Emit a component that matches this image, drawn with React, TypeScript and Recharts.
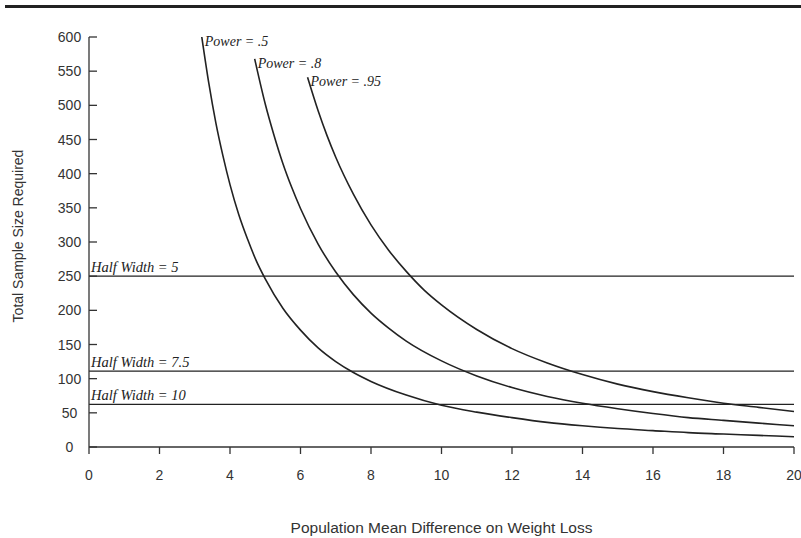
import {
  LineChart,
  Line,
  XAxis,
  YAxis,
  ReferenceLine,
  ReferenceDot,
} from "recharts";

const xTicks = [0, 2, 4, 6, 8, 10, 12, 14, 16, 18, 20];
const yTicks = [0, 50, 100, 150, 200, 250, 300, 350, 400, 450, 500, 550, 600];

// mean difference (x) and total sample size (y)
const power50Diff = [3.2, 3.4, 3.6, 3.8, 4, 4.25, 4.5, 4.75, 5, 5.5, 6, 6.5, 7, 7.5, 8, 9, 10, 11, 12, 13, 14, 15, 16, 17, 18, 19, 20];
const power50Size = [600, 532, 474, 426, 384, 340, 304, 272, 246, 203, 171, 145, 125, 109, 96, 76, 61, 51, 43, 36, 31, 27, 24, 21, 19, 17, 15];

const power80Diff = [4.7, 5, 5.25, 5.5, 5.75, 6, 6.5, 7, 7.5, 8, 8.5, 9, 10, 11, 12, 13, 14, 15, 16, 17, 18, 19, 20];
const power80Size = [568, 502, 456, 415, 380, 349, 297, 256, 223, 196, 174, 155, 126, 104, 87, 74, 64, 56, 49, 43, 39, 35, 31];

const power95Diff = [6.2, 6.5, 6.75, 7, 7.5, 8, 8.5, 9, 9.5, 10, 11, 12, 13, 14, 15, 16, 17, 18, 19, 20];
const power95Size = [541, 492, 456, 424, 370, 325, 288, 257, 230, 208, 172, 144, 123, 106, 92, 81, 72, 64, 58, 52];

const powerNames = [".5", ".8", ".95"];
const halfWidthNames = ["5", "7.5", "10"];
const halfWidthSizes = [250, 111, 62.5];

const toRows = (d: number[], n: number[]) => d.map((v, i) => ({ d: v, n: n[i] }));
const series = [
  toRows(power50Diff, power50Size),
  toRows(power80Diff, power80Size),
  toRows(power95Diff, power95Size),
];

const SANS = "'Liberation Sans', Arial, sans-serif";
const SERIF = "'Liberation Serif', 'Times New Roman', serif";
const INK = "#222";
const AXIS = "#333";

const YTick = (props: any) => {
  const { x, y, payload } = props;
  return (
    <g>
      <line x1={x} x2={x + 8} y1={y} y2={y} stroke={AXIS} strokeWidth={1.3} />
      <text
        x={x - 19.5}
        y={y}
        dy={5}
        textAnchor="middle"
        fontSize={14}
        fontFamily={SANS}
        fill={AXIS}
      >
        {payload.value}
      </text>
    </g>
  );
};

const YTitle = (p: any) => {
  const cx = p.viewBox.x + 18;
  const cy = p.viewBox.y + p.viewBox.height / 2 - 6;
  return (
    <text
      x={cx}
      y={cy}
      transform={`rotate(-90 ${cx} ${cy})`}
      textAnchor="middle"
      dy={5}
      fontSize={14}
      fontFamily={SANS}
      fill={AXIS}
    >
      Total Sample Size Required
    </text>
  );
};

export default function App() {
  return (
    <div
      style={{
        position: "absolute",
        left: 0,
        top: 0,
        width: 801,
        height: 538,
        background: "#fff",
      }}
    >
      <div
        style={{
          position: "absolute",
          left: 5,
          top: 5,
          width: 796,
          height: 3,
          background: INK,
        }}
      />
      <LineChart
        width={801}
        height={538}
        margin={{ top: 37, right: 7, left: 0, bottom: 0 }}
      >
        <XAxis
          type="number"
          dataKey="d"
          domain={[0, 20]}
          ticks={xTicks}
          interval={0}
          height={91}
          stroke={AXIS}
          strokeWidth={1.3}
          tickSize={7}
          tickMargin={16}
          tick={{ fontSize: 14, fontFamily: SANS, fill: AXIS }}
          label={{
            value: "Population Mean Difference on Weight Loss",
            position: "insideBottom",
            offset: 5,
            fontSize: 15.5,
            fontFamily: SANS,
            fill: AXIS,
          }}
        />
        <YAxis
          type="number"
          domain={[0, 600]}
          ticks={yTicks}
          interval={0}
          width={89}
          stroke={AXIS}
          strokeWidth={1.3}
          tickLine={false}
          tickSize={0}
          tickMargin={0}
          tick={<YTick />}
          label={{ content: YTitle }}
        />
        {halfWidthSizes.map((v, i) => (
          <ReferenceLine
            key={"hw" + i}
            y={v}
            stroke={INK}
            strokeWidth={1.3}
            label={{
              content: (p: any) => (
                <text
                  x={p.viewBox.x + 2}
                  y={p.viewBox.y - 4}
                  fontSize={14.5}
                  fontFamily={SERIF}
                  fontStyle="italic"
                  fill={INK}
                >
                  {"Half Width = " + halfWidthNames[i]}
                </text>
              ),
            }}
          />
        ))}
        {series.map((rows, i) => (
          <Line
            key={"p" + i}
            data={rows}
            dataKey="n"
            type="monotone"
            stroke={INK}
            strokeWidth={1.6}
            dot={false}
            activeDot={false}
            isAnimationActive={false}
          />
        ))}
        {series.map((rows, i) => (
          <ReferenceDot
            key={"lbl" + i}
            x={rows[0].d}
            y={rows[0].n}
            r={0}
            stroke="none"
            fill="none"
            label={{
              content: (p: any) => (
                <text
                  x={p.viewBox.x + 3}
                  y={p.viewBox.y + 9}
                  fontSize={14}
                  fontFamily={SERIF}
                  fontStyle="italic"
                  fill={INK}
                >
                  {"Power = " + powerNames[i]}
                </text>
              ),
            }}
          />
        ))}
      </LineChart>
    </div>
  );
}
